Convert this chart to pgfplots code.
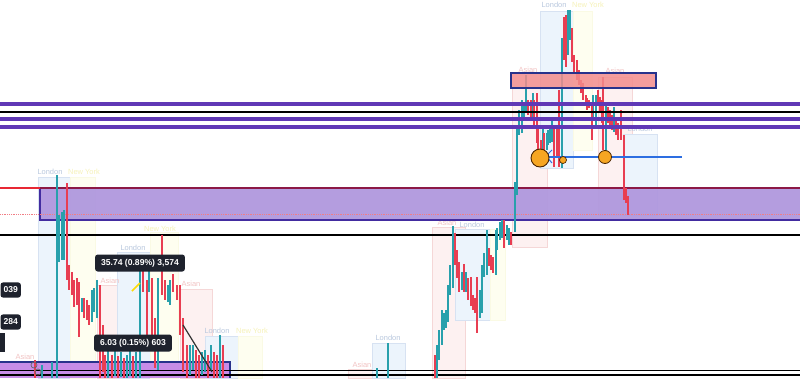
\documentclass[border=0pt]{standalone}
\usepackage{pgfplots}
\pgfplotsset{compat=1.18}
\usepackage{pgfplotstable}
\usepackage{fontspec}
\setmainfont{Liberation Sans}

\definecolor{bull}{RGB}{40,160,172}
\definecolor{bear}{RGB}{232,62,82}
\definecolor{pline}{RGB}{96,56,182}
\definecolor{pband}{RGB}{176,152,222}
\definecolor{pborder}{RGB}{66,44,160}
\definecolor{maroon}{RGB}{140,25,70}
\definecolor{redline}{RGB}{232,40,52}
\definecolor{rbox}{RGB}{243,140,140}
\definecolor{navy}{RGB}{40,50,140}
\definecolor{orng}{RGB}{246,166,35}
\definecolor{bline}{RGB}{45,110,225}
\definecolor{lonfill}{RGB}{236,244,252}
\definecolor{londraw}{RGB}{215,226,242}
\definecolor{lontext}{RGB}{185,200,222}
\definecolor{asifill}{RGB}{253,241,241}
\definecolor{asidraw}{RGB}{245,215,215}
\definecolor{asitext}{RGB}{242,195,195}
\definecolor{nyfill}{RGB}{254,254,240}
\definecolor{nydraw}{RGB}{250,250,228}
\definecolor{nytext}{RGB}{246,242,185}
\definecolor{lbl}{RGB}{30,34,45}

% x  top  bottom  high  low   (pixel rows, measured from the top)
\pgfplotstableread{
x t b h l
42 370 378 365 378
52 368 378 362 378
57 248 368 175 378
59 220 257 215 262
62 217 247 212 260
64 225 248 210 260
82 302 308 298 312
92 300 315 290 322
94 295 307 288 312
97 290 307 280 318
108 360 370 350 378
115 358 368 350 376
121 360 370 352 377
127 362 372 355 378
130 358 370 350 376
136 360 372 352 378
140 270 362 265 378
149 275 287 270 292
158 283 362 278 370
168 290 297 285 302
170 283 300 280 305
190 353 367 345 375
193 352 363 345 370
202 358 368 352 375
205 356 366 350 372
211 352 362 345 370
220 338 367 335 378
377 370 378 368 378
388 343 378 343 378
437 350 377 345 378
439 335 353 330 360
442 315 337 310 345
444 320 327 313 330
446 313 323 310 328
448 288 318 285 322
450 270 290 265 295
453 228 270 226 288
462 277 285 272 290
466 277 287 272 292
480 297 312 290 318
482 268 310 265 313
484 262 270 253 277
487 240 270 230 275
496 243 270 230 275
497 233 247 228 250
500 227 235 222 240
502 223 233 220 238
507 228 237 225 240
509 232 240 228 245
515 187 230 182 232
517 127 193 125 195
519 113 133 110 135
522 103 112 100 133
524 105 110 102 120
526 100 108 75 113
533 97 110 93 118
543 133 147 128 150
547 137 147 133 150
548 133 142 130 145
550 127 140 125 143
552 125 138 120 142
562 40 150 38 168
568 28 50 10 55
570 13 33 10 40
593 98 110 95 118
596 97 125 95 128
606 110 127 105 152
614 120 128 107 132
}\bulltab

\pgfplotstableread{
x t b h l
35 365 375 360 378
67 225 277 183 280
69 273 283 265 290
72 277 292 272 295
74 285 297 280 307
77 283 300 278 305
79 287 307 282 337
84 302 312 298 318
87 303 317 300 320
89 308 320 305 325
100 290 360 285 378
103 330 365 325 372
105 365 375 355 378
112 362 372 355 378
118 362 374 356 378
124 364 376 358 378
133 362 374 356 378
143 270 287 265 292
147 285 300 280 340
152 283 330 278 340
155 322 360 318 368
162 283 292 235 295
165 285 297 280 300
173 278 287 274 292
177 288 295 285 300
180 290 330 285 335
183 325 367 318 372
187 350 372 345 378
196 355 372 350 378
199 360 376 355 378
208 360 372 355 378
214 357 372 352 378
217 360 374 355 378
223 348 373 345 378
435 357 375 355 378
455 238 260 233 265
457 258 275 250 278
459 265 287 262 292
464 267 288 264 292
468 282 297 278 300
471 292 303 277 306
473 298 307 295 310
475 302 310 298 313
477 305 310 277 333
489 253 262 248 266
491 258 265 255 270
493 260 270 257 273
504 223 245 220 248
511 237 240 232 245
528 103 110 100 115
531 105 115 100 118
534 103 122 100 125
537 120 140 93 143
538 127 150 125 157
541 143 157 140 160
544 137 147 133 150
554 127 150 125 167
557 130 153 127 158
559 93 150 90 167
564 42 55 17 60
566 17 63 15 67
572 30 60 28 62
574 58 70 55 72
577 62 78 60 80
579 72 82 70 85
581 82 90 80 93
583 85 97 83 100
586 97 102 95 105
587 100 107 98 110
589 102 105 100 108
592 107 138 105 140
598 95 103 90 106
600 100 110 97 113
602 103 120 100 123
603 100 147 77 150
608 110 120 107 123
610 113 122 110 125
612 118 128 115 130
616 122 132 118 135
618 127 137 123 140
621 128 138 110 140
624 137 197 135 200
626 190 200 188 203
628 198 213 196 215
}\beartab

\newcommand{\sessbox}[5]{\filldraw[fill=#1fill, draw=#1draw, line width=0.6bp] (axis cs:#2,#3) rectangle (axis cs:#4,#5);}
\newcommand{\slabel}[4]{\node[anchor=base, text=#1, font=\fontsize{7.5}{8}\selectfont, inner sep=0pt] at (axis cs:#2,#3) {#4};}
\newcommand{\blab}[3]{\node[anchor=center, fill=lbl, text=white, rounded corners=2.5bp, inner xsep=6bp, inner ysep=4.5bp, font=\fontsize{8.6}{10}\selectfont\bfseries] at (axis cs:#1,#2) {#3};}

\begin{document}
\begin{tikzpicture}
\begin{axis}[
  scale only axis, width=800bp, height=378bp,
  xmin=0, xmax=800, ymin=0, ymax=378, y dir=reverse,
  axis line style={draw=none}, xtick=\empty, ytick=\empty,
  axis background/.style={fill=white},
]
% session boxes
\sessbox{lon}{38}{177}{70}{378}
\sessbox{ny}{70}{177}{95}{378}
\sessbox{asi}{97}{285}{127}{378}
\sessbox{lon}{117}{252}{150}{378}
\sessbox{ny}{150}{232}{178}{378}
\sessbox{asi}{180}{289}{212}{378}
\sessbox{lon}{205}{336}{238}{378}
\sessbox{ny}{238}{336}{262}{378}
\sessbox{asi}{348}{369}{372}{378}
\sessbox{lon}{372}{343}{405}{378}
\sessbox{asi}{432}{227}{465}{378}
\sessbox{lon}{455}{229}{490}{320}
\sessbox{ny}{490}{229}{505}{320}
\sessbox{asi}{512}{88}{547}{247}
\sessbox{lon}{540}{11}{573}{168}
\sessbox{ny}{573}{11}{592}{150}
\sessbox{asi}{598}{77}{632}{215}
\sessbox{lon}{623}{134}{657}{215}
\slabel{asitext}{25}{359}{Asian}
\slabel{lontext}{50}{174}{London}
\slabel{nytext}{84}{174}{New York}
\slabel{asitext}{110}{283}{Asian}
\slabel{lontext}{133}{250}{London}
\slabel{nytext}{160}{231}{New York}
\slabel{asitext}{191}{286}{Asian}
\slabel{lontext}{217}{333}{London}
\slabel{nytext}{252}{333}{New York}
\slabel{asitext}{362}{367}{Asian}
\slabel{lontext}{388}{340}{London}
\slabel{asitext}{447}{225}{Asian}
\slabel{lontext}{472}{227}{London}
\slabel{asitext}{528}{72}{Asian}
\slabel{lontext}{554}{8}{London}
\slabel{nytext}{588}{8}{New York}
\slabel{asitext}{615}{73}{Asian}
\slabel{lontext}{640}{131}{London}

% purple band and lines
\fill[pband, opacity=0.95] (axis cs:40,188) rectangle (axis cs:800,220);
\draw[pborder, line width=1.8bp] (axis cs:800,220) -- (axis cs:40,220) -- (axis cs:40,188);
\addplot[maroon, line width=1.8bp] coordinates {(40,188) (800,188)};
\addplot[redline, line width=2bp] coordinates {(0,188) (40,188)};
\addplot[redline!60, densely dotted, line width=0.8bp] coordinates {(0,214) (800,214)};
\addplot[black, line width=1.6bp] coordinates {(0,235) (800,235)};
\fill[pband!80!magenta!90, opacity=0.95] (axis cs:0,362) rectangle (axis cs:230,378);
\draw[navy, line width=1.6bp] (axis cs:0,362) -- (axis cs:230,362) -- (axis cs:230,378);
\addplot[black, line width=1.4bp] coordinates {(0,370.5) (800,370.5)};
\addplot[black, line width=1.4bp] coordinates {(0,374.8) (800,374.8)};

% candles
\addplot[draw=none, mark=none, error bars/.cd, y dir=both, y explicit, error mark=none,
  error bar style={line width=1.1bp, draw=bull}]
  table[x=x, y expr={(\thisrow{h}+\thisrow{l})/2}, y error expr={(\thisrow{l}-\thisrow{h})/2}] {\bulltab};
\addplot[draw=none, mark=none, error bars/.cd, y dir=both, y explicit, error mark=none,
  error bar style={line width=2.8bp, draw=bull}]
  table[x=x, y expr={(\thisrow{t}+\thisrow{b})/2}, y error expr={(\thisrow{b}-\thisrow{t})/2}] {\bulltab};
\addplot[draw=none, mark=none, error bars/.cd, y dir=both, y explicit, error mark=none,
  error bar style={line width=1.1bp, draw=bear}]
  table[x=x, y expr={(\thisrow{h}+\thisrow{l})/2}, y error expr={(\thisrow{l}-\thisrow{h})/2}] {\beartab};
\addplot[draw=none, mark=none, error bars/.cd, y dir=both, y explicit, error mark=none,
  error bar style={line width=2.8bp, draw=bear}]
  table[x=x, y expr={(\thisrow{t}+\thisrow{b})/2}, y error expr={(\thisrow{b}-\thisrow{t})/2}] {\beartab};

% purple horizontal levels
\addplot[pline, line width=3.8bp] coordinates {(0,104) (800,104)};
\addplot[black, line width=1.5bp] coordinates {(0,112) (800,112)};
\addplot[pline, line width=3.8bp] coordinates {(0,119) (800,119)};
\addplot[pline, line width=3.8bp] coordinates {(0,127) (800,127)};

% red zone
\filldraw[fill=rbox, fill opacity=0.85, draw=navy, line width=1.8bp] (axis cs:511,73) rectangle (axis cs:656,88);

% diagonal and small marks
\addplot[black!80, line width=1.2bp] coordinates {(183,325) (212,372)};
\addplot[yellow!80!orange, line width=1.5bp] coordinates {(132,291) (140,283)};
\addplot[bline, line width=1.6bp] coordinates {(540,157) (682,157)};
\addplot[bline, line width=1bp] coordinates {(552,150) (546,156) (552,163)};
\addplot[only marks, mark=*, mark size=9bp, mark options={fill=orng, draw=black!70!orange, line width=0.9bp}] coordinates {(540,158)};
\addplot[only marks, mark=*, mark size=3.5bp, mark options={fill=orng, draw=black!70!orange, line width=0.7bp}] coordinates {(563,160)};
\addplot[only marks, mark=*, mark size=6.5bp, mark options={fill=orng, draw=black!70!orange, line width=0.8bp}] coordinates {(605,157)};
\addplot[only marks, mark=o, mark size=3bp, mark options={draw=black!60, line width=0.7bp}] coordinates {(34,365) (38,372)};

% measurement labels
\blab{140}{263}{35.74 (0.89\%) 3,574}
\blab{133}{343}{6.03 (0.15\%) 603}
\node[anchor=east, fill=lbl, text=white, rounded corners=2.5bp, inner xsep=3bp, inner ysep=4.5bp, font=\fontsize{8.6}{10}\selectfont\bfseries] at (axis cs:21,290) {039};
\node[anchor=east, fill=lbl, text=white, rounded corners=2.5bp, inner xsep=3bp, inner ysep=4.5bp, font=\fontsize{8.6}{10}\selectfont\bfseries] at (axis cs:21,322) {284};
\fill[lbl] (axis cs:0,333) rectangle (axis cs:5,352);
\end{axis}
\end{tikzpicture}
\end{document}
